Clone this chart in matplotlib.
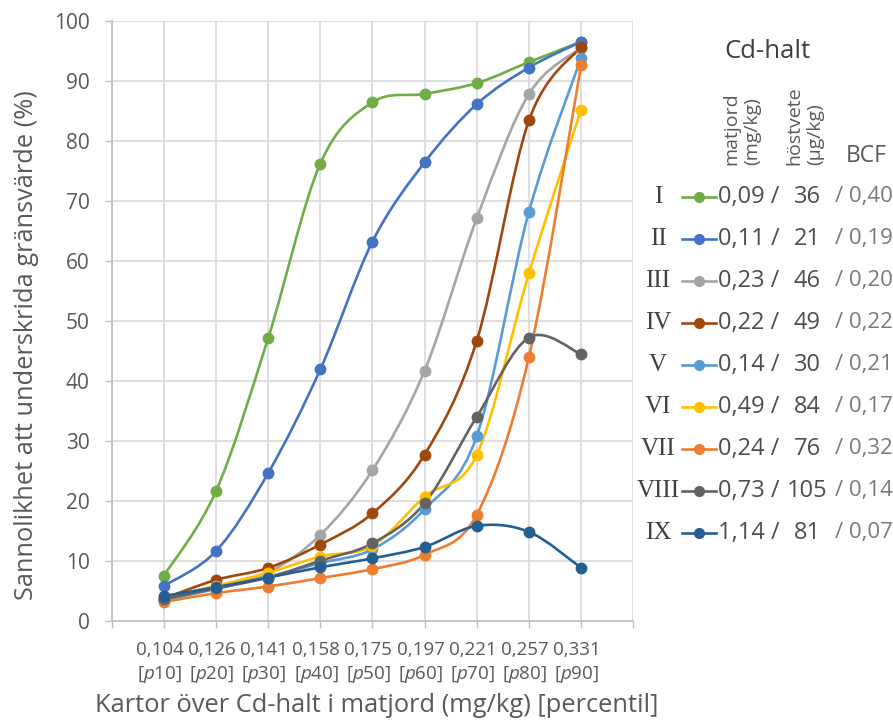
import matplotlib
matplotlib.use('Agg')
import matplotlib.pyplot as plt
from matplotlib.path import Path
from matplotlib.patches import PathPatch
from matplotlib.lines import Line2D

plt.rcParams['font.family'] = ['Open Sans', 'DejaVu Sans']
plt.rcParams['mathtext.fontset'] = 'custom'
plt.rcParams['mathtext.rm'] = 'Open Sans'
plt.rcParams['mathtext.it'] = 'Open Sans:italic'

# Data
positions = [1, 2, 3, 4, 5, 6, 7, 8, 9]
cd_values = ['0,104', '0,126', '0,141', '0,158', '0,175', '0,197', '0,221', '0,257', '0,331']
percentiles = ['p10', 'p20', 'p30', 'p40', 'p50', 'p60', 'p70', 'p80', 'p90']

names = ['I', 'II', 'III', 'IV', 'V', 'VI', 'VII', 'VIII', 'IX']
s_I = [7.5, 21.6, 47.1, 76.2, 86.4, 87.8, 89.6, 93.1, 96.5]
s_II = [5.8, 11.6, 24.6, 41.9, 63.2, 76.4, 86.1, 92.2, 96.5]
s_III = [3.5, 5.5, 8.0, 14.3, 25.1, 41.7, 67.1, 87.8, 95.5]
s_IV = [3.7, 6.8, 8.8, 12.7, 17.9, 27.7, 46.7, 83.4, 95.7]
s_V = [3.4, 5.3, 7.3, 9.6, 11.9, 18.6, 30.8, 68.2, 93.8]
s_VI = [3.8, 5.8, 8.0, 10.7, 12.5, 20.7, 27.7, 57.9, 85.2]
s_VII = [3.1, 4.6, 5.7, 7.1, 8.6, 11.0, 17.7, 44.0, 92.6]
s_VIII = [3.6, 5.4, 7.2, 10.0, 12.9, 19.6, 34.0, 47.2, 44.4]
s_IX = [4.1, 5.6, 7.2, 8.9, 10.4, 12.3, 15.8, 14.8, 8.8]
series = [s_I, s_II, s_III, s_IV, s_V, s_VI, s_VII, s_VIII, s_IX]

matjord = ['0,09', '0,11', '0,23', '0,22', '0,14', '0,49', '0,24', '0,73', '1,14']
hostvete = ['36', '21', '46', '49', '30', '84', '76', '105', '81']
bcf = ['0,40', '0,19', '0,20', '0,22', '0,21', '0,17', '0,32', '0,14', '0,07']

colors = ['#70AD47', '#4472C4', '#A5A5A5', '#9E480E', '#5B9BD5',
          '#FFC000', '#ED7D31', '#636363', '#255E91']

W, H = 893, 720
txt = '#595959'
grid_c = '#d9d9d9'
axis_c = '#bfbfbf'


def smooth_path(xs, ys):
    # Bezier smoothing like Excel's "smoothed line"
    verts = [(xs[0], ys[0])]
    codes = [Path.MOVETO]
    n = len(xs)
    for i in range(n - 1):
        a = i - 1 if i > 0 else i
        b = i + 2 if i + 2 < n else i + 1
        c1 = (xs[i] + (xs[i + 1] - xs[a]) / 6, ys[i] + (ys[i + 1] - ys[a]) / 6)
        c2 = (xs[i + 1] - (xs[b] - xs[i]) / 6, ys[i + 1] - (ys[b] - ys[i]) / 6)
        verts += [c1, c2, (xs[i + 1], ys[i + 1])]
        codes += [Path.CURVE4] * 3
    return Path(verts, codes)


fig = plt.figure(figsize=(W / 100, H / 100), dpi=100)
ax = fig.add_axes([111.7 / W, 1 - 620.7 / H, (633.3 - 111.7) / W, 600 / H])

for ys, c in zip(series, colors):
    ax.add_patch(PathPatch(smooth_path(positions, ys), fill=False,
                           edgecolor=c, lw=1.9, zorder=3, capstyle='round'))
    ax.plot(positions, ys, 'o', ms=7.5, color=c, mec=c, zorder=4)

ax.set_xlim(0, 10)
ax.set_ylim(0, 100)
ax.set_xticks(range(0, 11))
ax.set_xticklabels([])
ax.set_yticks(range(0, 101, 10))
ax.tick_params(axis='y', length=5, width=1, color=axis_c, labelsize=15,
               labelcolor=txt, pad=11)
ax.tick_params(axis='x', length=5, width=1, color=axis_c)
ax.grid(True, color=grid_c, lw=1.2)
ax.set_axisbelow(True)
for s in ['top', 'right']:
    ax.spines[s].set_visible(False)
for s in ['left', 'bottom']:
    ax.spines[s].set_color(axis_c)
    ax.spines[s].set_linewidth(1.2)

# x tick labels (two rows)
for x, v, p in zip(positions, cd_values, percentiles):
    ax.annotate(v, (x, 0), xycoords='data', xytext=(-3, -29 * 0.72),
                textcoords='offset points', ha='center', va='center',
                fontsize=13.5, color=txt)
    ax.annotate('[$\\mathit{p}$' + p[1:] + ']', (x, 0), xycoords='data',
                xytext=(-3, -54 * 0.72), textcoords='offset points',
                ha='center', va='center', fontsize=13.5, color=txt)

fig.text(27 / W, 1 - 345 / H, 'Sannolikhet att underskrida gränsvärde (%)',
         rotation=90, ha='center', va='center', fontsize=18.3, color=txt)
fig.text(377 / W, 1 - 706 / H, 'Kartor över Cd-halt i matjord (mg/kg) [percentil]',
         ha='center', va='center', fontsize=18.4, color=txt)

# legend
fig.text(767 / W, 1 - 51 / H, 'Cd-halt', ha='center', va='center',
         fontsize=18.5, color='#404040')
fig.text(742 / W, 1 - 165 / H, 'matjord\n(mg/kg)', rotation=90, ha='center',
         va='bottom', multialignment='left', fontsize=14, color=txt)
fig.text(805 / W, 1 - 165 / H, 'höstvete\n(µg/kg)', rotation=90, ha='center',
         va='bottom', multialignment='left', fontsize=14, color=txt)
fig.text(866 / W, 1 - 156 / H, 'BCF', ha='center', va='center',
         fontsize=16.5, color=txt)

row_y = [196.7 + 42 * i for i in range(len(names))]
for name, c, m, h, b, y in zip(names, colors, matjord, hostvete, bcf, row_y):
    fy = 1 - y / H
    fig.text(658 / W, fy, name, ha='center', va='center', fontsize=18,
             family='Liberation Serif', color='#404040')
    fig.add_artist(Line2D([682 / W, 716 / W], [fy, fy], color=c, lw=1.9,
                          transform=fig.transFigure))
    fig.add_artist(Line2D([699 / W], [fy], marker='o', ms=7, color=c,
                          transform=fig.transFigure))
    fig.text(718 / W, fy, m + ' /', ha='left', va='center', fontsize=17,
             color='#4d4d4d')
    fig.text(807 / W, fy, h, ha='center', va='center', fontsize=17,
             color='#4d4d4d')
    fig.text(835 / W, fy, '/ ' + b, ha='left', va='center', fontsize=16,
             color='#7a7a7a')

fig.savefig('out.png', dpi=100)
